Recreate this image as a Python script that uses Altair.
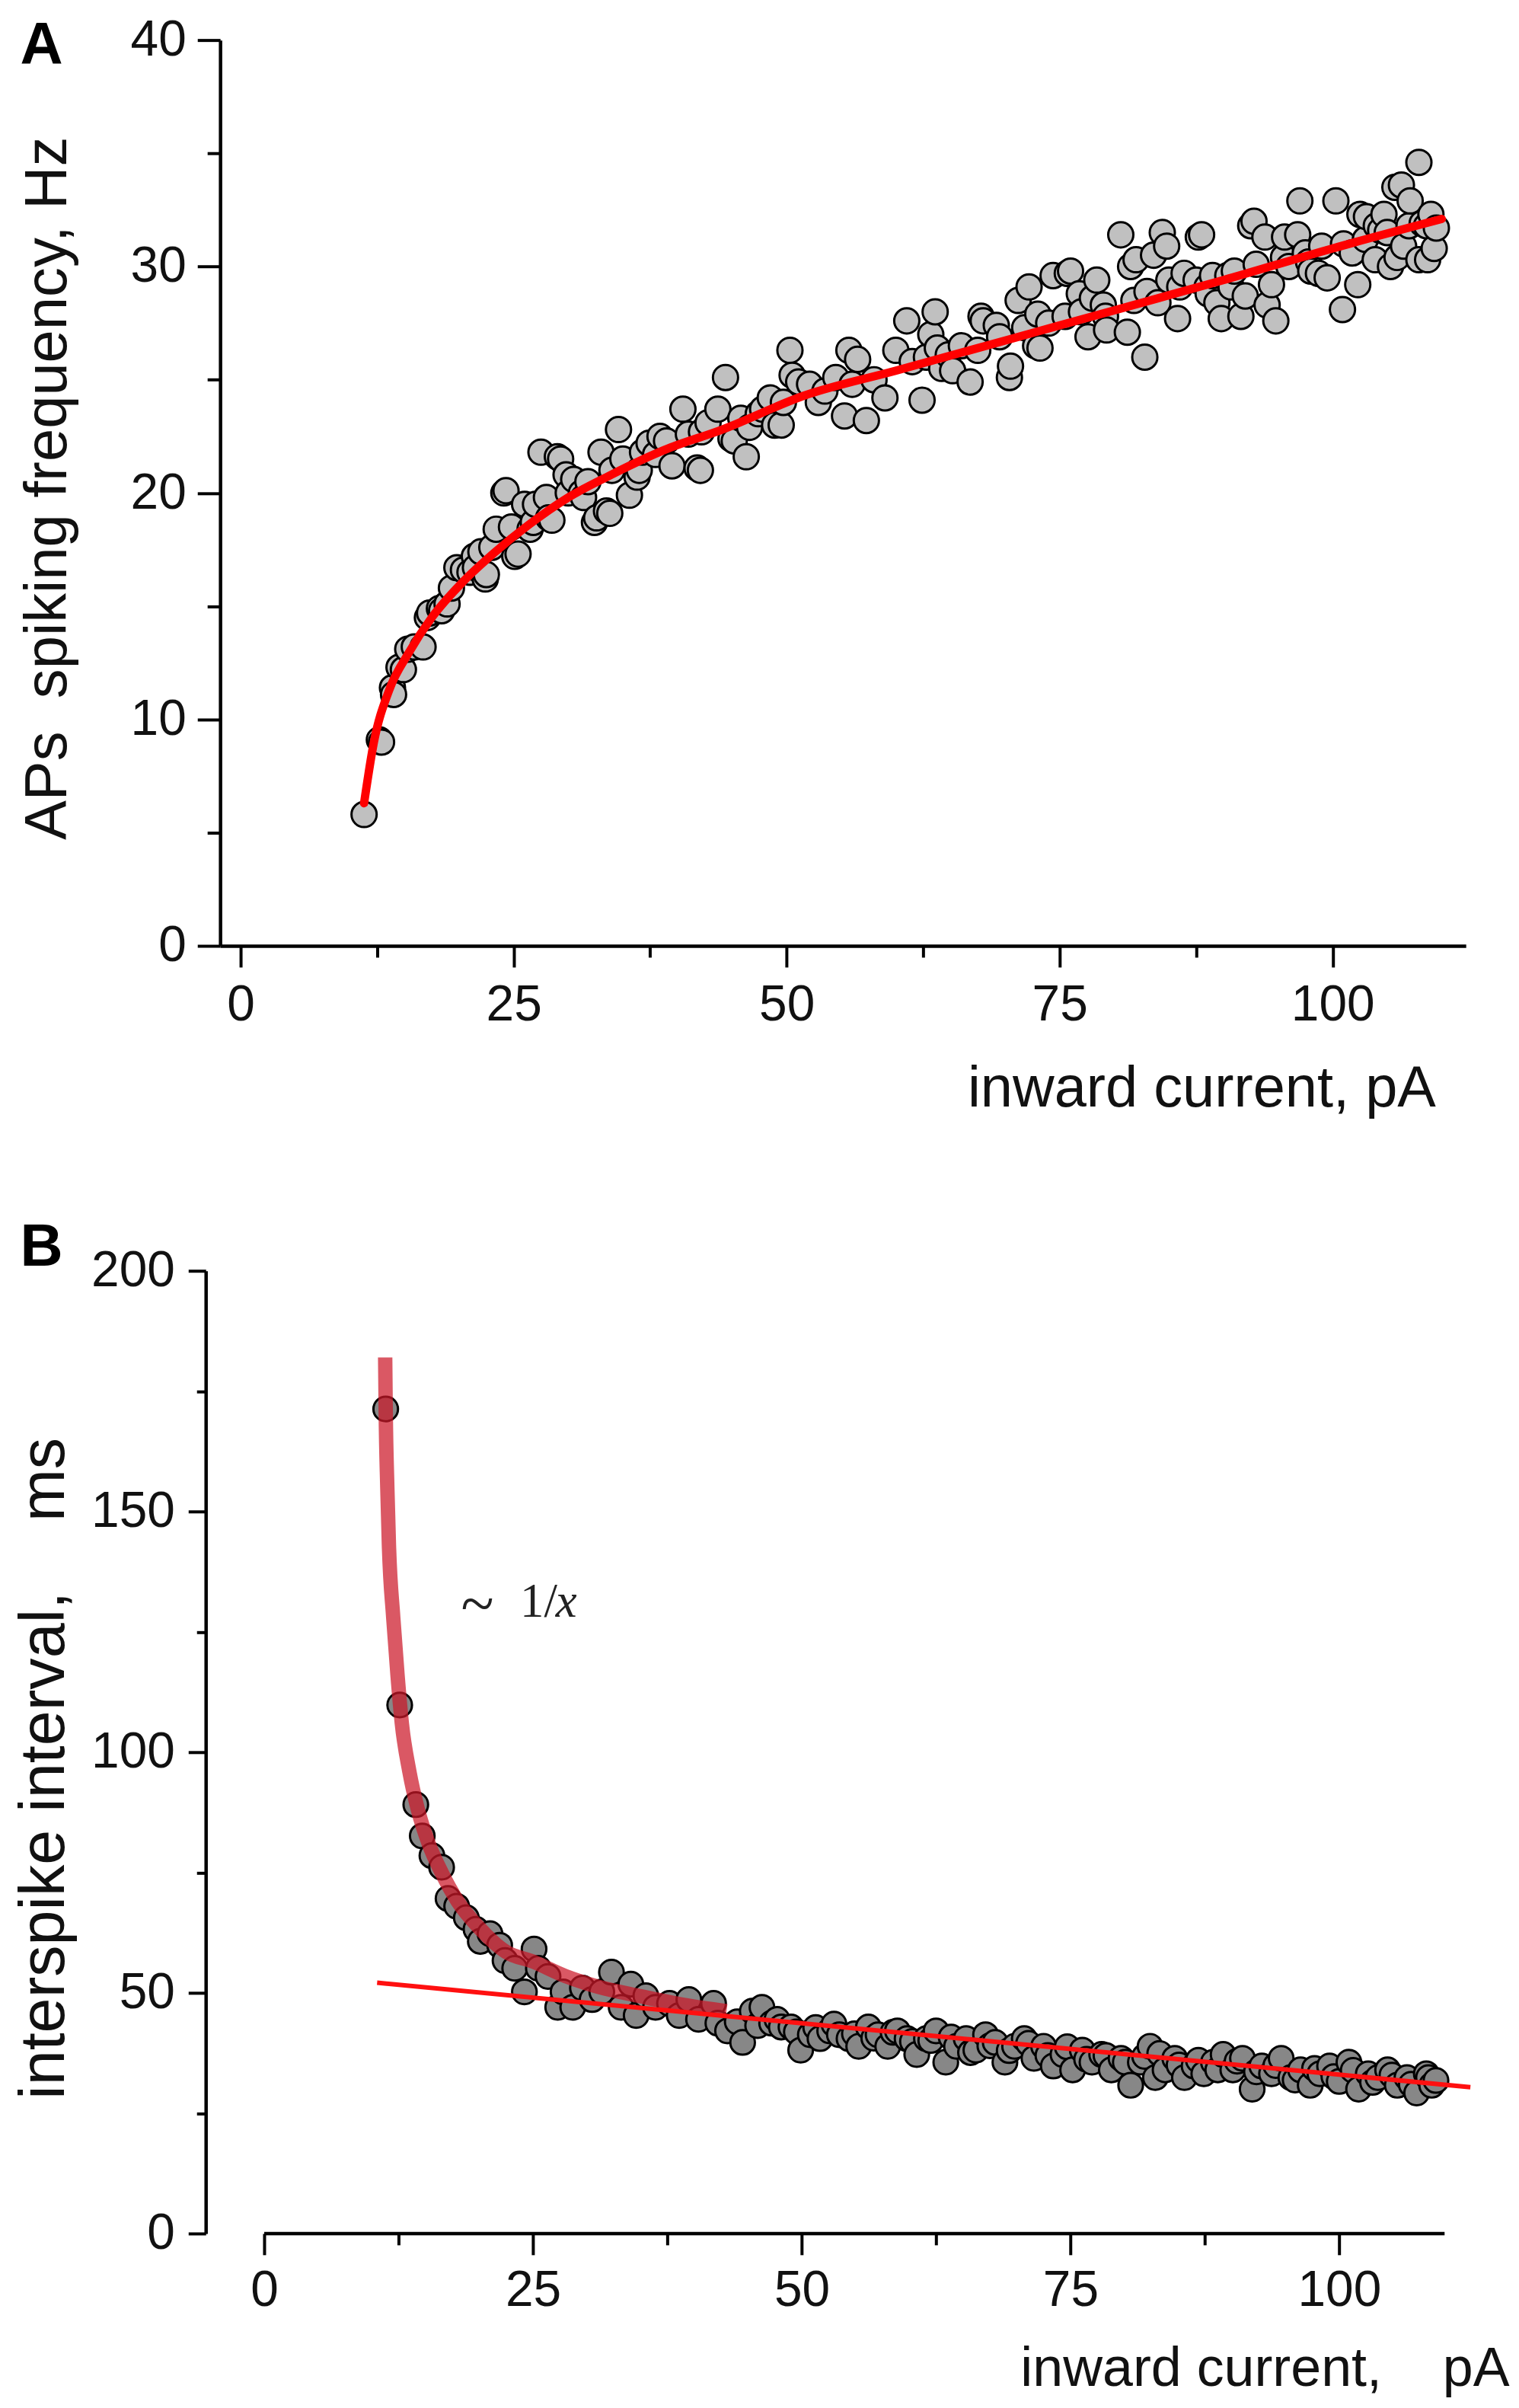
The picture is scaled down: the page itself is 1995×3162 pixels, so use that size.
import altair as alt
import pandas as pd

# ---------------- Panel A data: spiking frequency (Hz) vs inward current (pA)
a_points = [
    (11.3, 5.8), (12.7, 9.1), (12.9, 9.0), (13.9, 11.4), (14.0, 11.1), (14.5, 12.3), (14.9, 12.2),
    (15.3, 13.1), (15.9, 13.2), (16.7, 13.2), (17.1, 14.5), (17.3, 14.7), (18.2, 14.9), (18.4, 14.8),
    (18.9, 15.1), (19.3, 15.8), (19.8, 16.7), (20.4, 16.6), (21.0, 16.5), (21.4, 17.2), (21.5, 16.7),
    (22.0, 17.4), (22.4, 16.2), (22.5, 16.4), (23.0, 17.6), (23.4, 18.4), (24.1, 20.0), (24.3, 20.1),
    (24.8, 18.5), (25.1, 17.2), (25.4, 17.3), (26.0, 19.5), (26.5, 18.4), (26.8, 18.7), (27.0, 19.5),
    (27.5, 21.8), (28.0, 19.8), (28.2, 18.9), (28.5, 18.8), (29.0, 21.6), (29.3, 21.5), (29.8, 20.8),
    (30.0, 20.0), (30.5, 20.6), (31.2, 20.0), (31.4, 19.8), (31.8, 20.5), (32.4, 18.7), (32.6, 18.9),
    (33.0, 21.8), (33.5, 19.2), (33.8, 19.1), (34.0, 21.0), (34.6, 22.8), (35.0, 21.5), (35.6, 19.9),
    (36.3, 20.7), (36.5, 21.0), (36.8, 21.8), (37.4, 22.2), (38.0, 21.7), (38.4, 22.5), (39.0, 22.3),
    (39.5, 21.2), (40.5, 23.7), (41.0, 22.6), (41.8, 21.1), (42.1, 21.0), (42.2, 22.7), (42.8, 23.1),
    (43.7, 23.7), (44.4, 25.1), (44.9, 22.4), (45.2, 22.3), (45.8, 23.3), (46.3, 21.6), (46.6, 22.9),
    (47.4, 23.5), (47.8, 23.7), (48.5, 24.2), (48.9, 23.0), (49.5, 23.0), (49.7, 24.0), (50.3, 26.3),
    (50.5, 25.2), (51.1, 24.9), (52.1, 24.8), (52.9, 24.0), (53.5, 24.5), (54.5, 25.1), (55.3, 23.4),
    (55.7, 26.3), (56.0, 24.8), (56.5, 25.9), (57.3, 23.2), (58.0, 25.0), (59.0, 24.2), (60.0, 26.3),
    (61.0, 27.6), (61.5, 25.8), (62.4, 24.1), (62.8, 26.0), (63.2, 27.0), (63.6, 28.0), (63.8, 26.4),
    (64.2, 25.5), (64.8, 26.1), (65.2, 25.4), (66.0, 26.5), (66.8, 24.9), (67.5, 26.3), (67.8, 27.8),
    (68.0, 27.6), (69.2, 27.4), (69.5, 26.9), (70.4, 25.1), (70.5, 25.6), (71.2, 28.5), (71.8, 27.3),
    (72.2, 29.1), (72.8, 26.5), (73.0, 27.9), (73.2, 26.4), (74.0, 27.5), (74.4, 29.6), (75.5, 27.8),
    (75.7, 29.7), (76.0, 29.8), (76.8, 28.8), (77.0, 28.0), (77.6, 26.9), (78.0, 28.6), (78.4, 29.4),
    (79.0, 28.3), (79.2, 27.8), (79.3, 27.2), (80.6, 31.4), (81.2, 27.1), (81.5, 30.0), (81.8, 28.5),
    (82.0, 30.3), (82.8, 26.0), (83.0, 28.9), (83.6, 30.5), (84.0, 28.4), (84.4, 31.5), (84.8, 30.9),
    (85.0, 29.4), (85.8, 27.7), (86.0, 29.1), (86.4, 29.7), (87.5, 29.4), (87.7, 31.3), (88.0, 31.4),
    (88.5, 29.1), (88.6, 28.8), (89.0, 29.6), (89.4, 28.4), (89.8, 27.7), (90.4, 29.6), (90.7, 29.1),
    (91.0, 29.8), (91.6, 27.8), (92.0, 28.7), (92.5, 31.8), (92.8, 32.0), (93.0, 30.1), (93.8, 31.3),
    (94.0, 28.3), (94.4, 29.2), (94.8, 27.6), (95.5, 30.4), (95.6, 31.3), (96.0, 30.0), (96.8, 31.4),
    (97.0, 32.9), (97.5, 30.6), (97.8, 30.2), (98.0, 29.8), (98.7, 29.7), (99.0, 30.9), (99.5, 29.5),
    (100.3, 32.9), (100.9, 28.1), (101.0, 31.0), (101.8, 30.6), (102.3, 29.2), (102.5, 32.3),
    (103.0, 31.2), (103.1, 32.2), (103.9, 30.3), (104.0, 31.8), (104.4, 31.6), (104.7, 32.3),
    (105.0, 31.5), (105.3, 30.0), (105.7, 33.5), (105.9, 30.4), (106.3, 33.6), (106.5, 30.9),
    (107.0, 31.8), (107.1, 32.9), (107.9, 34.6), (107.9, 30.3), (108.2, 31.9), (108.6, 31.8),
    (108.7, 30.3), (109.0, 32.3), (109.3, 30.8), (109.5, 31.7),
]
a_fit_x = [11.3, 12.2, 13.6, 15.4, 17.5, 20.4, 23.2, 26.4, 30.0, 33.5, 38.8, 44.1, 51.6, 60.0, 75.0, 90.0, 100.0, 110.0]
a_fit_y = [6.3, 9.0, 11.3, 12.95, 14.5, 16.1, 17.35, 18.6, 19.8, 20.7, 21.9, 22.8, 24.3, 25.4, 27.4, 29.4, 30.8, 32.1]

# ---------------- Panel B data: interspike interval (ms) vs inward current (pA)
b_points = [
    (11.3, 171.3), (12.6, 109.8), (14.1, 89.1), (14.7, 82.6), (15.6, 78.5), (16.5, 76.1), (17.1, 69.6),
    (17.9, 68.0), (18.8, 65.6), (19.7, 63.2), (20.1, 60.7), (21.0, 62.3), (21.9, 59.9), (22.4, 56.7),
    (23.3, 55.1), (24.2, 50.2), (25.1, 59.1), (25.5, 55.1), (26.4, 53.4), (27.3, 47.0), (27.8, 50.2),
    (28.7, 47.0), (29.6, 51.0), (30.5, 48.6), (31.4, 50.2), (32.3, 54.3), (33.2, 47.0), (34.1, 51.8),
    (34.6, 45.3), (35.5, 49.4), (36.4, 47.0), (37.7, 47.8), (38.6, 45.3), (39.5, 48.6), (40.4, 44.5),
    (41.8, 47.8), (42.2, 43.7), (43.1, 42.1), (44.0, 44.0), (44.5, 39.7), (45.4, 46.2), (45.9, 43.2),
    (46.3, 47.0), (47.2, 43.7), (47.7, 44.5), (48.1, 42.9), (49.0, 42.9), (49.5, 41.9), (49.9, 38.1),
    (50.8, 41.3), (51.3, 42.8), (51.7, 40.5), (52.6, 42.1), (53.0, 43.5), (53.5, 41.3), (54.4, 40.5),
    (54.9, 41.5), (55.3, 38.9), (56.2, 42.9), (56.7, 40.6), (57.1, 41.3), (58.0, 38.9), (58.5, 41.8),
    (58.9, 42.1), (59.8, 40.5), (60.3, 39.9), (60.7, 37.2), (61.6, 40.5), (62.0, 40.1), (62.5, 42.1),
    (63.4, 35.6), (63.9, 40.8), (64.4, 38.9), (65.3, 40.5), (65.7, 37.6), (66.2, 38.1), (67.1, 41.3),
    (67.5, 39.0), (68.0, 39.7), (68.9, 35.6), (69.3, 38.0), (69.8, 38.9), (70.7, 40.5), (71.1, 39.5),
    (71.6, 36.4), (72.5, 38.9), (72.9, 37.0), (73.4, 34.8), (74.3, 37.2), (74.7, 38.8), (75.2, 34.0),
    (76.1, 38.1), (76.5, 36.2), (77.0, 35.6), (77.9, 37.2), (78.3, 37.0), (78.8, 34.0), (79.7, 36.4),
    (80.1, 35.6), (80.6, 30.8), (81.5, 35.6), (81.9, 36.8), (82.4, 38.9), (82.9, 32.4), (83.3, 37.4),
    (83.8, 34.0), (84.7, 36.4), (85.1, 35.0), (85.6, 32.4), (86.5, 34.8), (86.9, 36.0), (87.4, 33.2),
    (88.3, 35.6), (88.7, 34.0), (89.2, 37.2), (90.1, 34.0), (90.5, 35.8), (91.0, 36.4), (91.9, 30.0),
    (92.3, 33.6), (92.8, 34.8), (93.7, 33.2), (94.1, 34.9), (94.6, 36.4), (95.5, 32.4), (95.9, 31.9),
    (96.4, 34.0), (97.3, 30.8), (97.7, 34.3), (98.2, 33.2), (99.1, 34.8), (99.5, 32.6), (100.0, 31.6),
    (100.9, 35.6), (101.3, 33.9), (101.8, 30.0), (102.7, 33.2), (103.1, 31.4), (103.6, 32.4),
    (104.5, 34.0), (104.9, 32.9), (105.4, 30.8), (106.3, 32.4), (106.7, 31.0), (107.2, 29.2),
    (108.1, 33.2), (108.3, 32.4), (108.6, 30.8), (109.0, 31.8),
]
b_hyp_x = [11.25, 11.3, 11.45, 11.6, 12.0, 12.4, 12.8, 13.5, 14.3, 15.3, 16.5, 18.0, 20.0, 22.5, 25.0, 28.0, 31.0, 35.0, 39.0, 43.0]
b_hyp_y = [182, 171, 155, 143, 128, 116, 106, 96, 88, 81, 75, 69, 63.5, 58.5, 56.5, 53.5, 51.3, 49.3, 47.5, 46.2]
b_lin_x = [10.5, 112.2]
b_lin_y = [52.1, 30.4]
b_xaxis_span = [0, 109.8]

x_ticks = [0, 12.5, 25, 37.5, 50, 62.5, 75, 87.5, 100]
a_y_ticks = [0, 5, 10, 15, 20, 25, 30, 35, 40]
b_y_ticks = [0, 25, 50, 75, 100, 125, 150, 175, 200]

SANS = "Liberation Sans"
SERIF = "Liberation Serif"
INK = "#111111"

dfa = pd.DataFrame(a_points, columns=["x", "y"])
dfa_fit = pd.DataFrame({"x": a_fit_x, "y": a_fit_y})
dfb = pd.DataFrame(b_points, columns=["x", "y"])
dfb_hyp = pd.DataFrame({"x": b_hyp_x, "y": b_hyp_y})
dfb_lin = pd.DataFrame({"x": b_lin_x, "y": b_lin_y})

# ---------------- Panel A
ax_a = alt.X("x:Q", scale=alt.Scale(domain=[-1.88, 112.2], nice=False, zero=False),
             axis=alt.Axis(values=x_ticks, title="inward current, pA",
                           titleX=1601, titleY=211, titleAlign="right", titleBaseline="alphabetic",
                           titleFontSize=76,
                           labelExpr="datum.value % 25 === 0 ? datum.label : ''",
                           tickSize={"condition": {"test": "datum.value % 25 === 0", "value": 28}, "value": 15},
                           labelPadding=18))
ay_a = alt.Y("y:Q", scale=alt.Scale(domain=[0, 40], nice=False, zero=False),
             axis=alt.Axis(values=a_y_ticks, title="APs\u00a0\u00a0spiking frequency, Hz",
                           titleAngle=270, titleX=-203, titleY=590, titleAlign="center",
                           titleBaseline="alphabetic", titleFontSize=78,
                           labelExpr="datum.value % 10 === 0 ? datum.label : ''",
                           tickSize={"condition": {"test": "datum.value % 10 === 0", "value": 30}, "value": 17},
                           labelPadding=15))

pts_a = alt.Chart(dfa).mark_circle(color="#c0c0c0", stroke="black", strokeWidth=3, size=1100, opacity=1).encode(x=ax_a, y=ay_a)
fit_a = alt.Chart(dfa_fit).mark_line(color="#ff0000", strokeWidth=11, interpolate="monotone", strokeCap="round").encode(x="x:Q", y="y:Q")
lab_a = alt.Chart(pd.DataFrame({"t": ["A"]})).mark_text(
    text="A", font=SANS, fontSize=78, fontWeight="bold", align="left", baseline="alphabetic", color="black"
).encode(x=alt.datum(-20.2), y=alt.datum(38.96))

panel_a = alt.layer(pts_a, fit_a, lab_a).properties(width=1641, height=1193)

# ---------------- Panel B
ax_b = alt.X("x:Q", scale=alt.Scale(domain=[-4.1, 109.8], nice=False, zero=False),
             axis=alt.Axis(values=x_ticks, title="inward current,\u00a0\u00a0\u00a0\u00a0pA",
                           titleX=1698, titleY=200, titleAlign="right", titleBaseline="alphabetic",
                           titleFontSize=72, domain=False,
                           labelExpr="datum.value % 25 === 0 ? datum.label : ''",
                           tickSize={"condition": {"test": "datum.value % 25 === 0", "value": 28}, "value": 15},
                           labelPadding=15))
ay_b = alt.Y("y:Q", scale=alt.Scale(domain=[0, 200], nice=False, zero=False),
             axis=alt.Axis(values=b_y_ticks, title="interspike interval,\u00a0\u00a0\u00a0\u00a0ms",
                           titleAngle=270, titleX=-187, titleY=655, titleAlign="center",
                           titleBaseline="alphabetic", titleFontSize=83, offset=19,
                           labelExpr="datum.value % 50 === 0 ? datum.label : ''",
                           tickSize={"condition": {"test": "datum.value % 50 === 0", "value": 23}, "value": 12},
                           labelPadding=18))

pts_b = alt.Chart(dfb).mark_circle(color="#878787", stroke="black", strokeWidth=3, size=1050, opacity=1).encode(x=ax_b, y=ay_b)
hyp_b = alt.Chart(dfb_hyp).mark_line(color="#cc1828", opacity=0.72, strokeWidth=19, interpolate="monotone").encode(x="x:Q", y="y:Q")
lin_b = alt.Chart(dfb_lin).mark_line(color="#ff1010", strokeWidth=6).encode(x="x:Q", y="y:Q")
xline_b = alt.Chart(pd.DataFrame({"a": [b_xaxis_span[0]], "b": [b_xaxis_span[1]]})).mark_rule(
    color="black", strokeWidth=4.5).encode(x="a:Q", x2="b:Q", y=alt.datum(0))
ann1 = alt.Chart(pd.DataFrame({"t": ["~"]})).mark_text(
    text="~", font=SERIF, fontSize=80, align="left", baseline="alphabetic", color="#222222"
).encode(x=alt.datum(18.3), y=alt.datum(126.5))
ann2 = alt.Chart(pd.DataFrame({"t": ["1/"]})).mark_text(
    text="1/", font=SERIF, fontSize=63, align="left", baseline="alphabetic", color="#222222"
).encode(x=alt.datum(23.8), y=alt.datum(128.1))
ann3 = alt.Chart(pd.DataFrame({"t": ["x"]})).mark_text(
    text="x", font=SERIF, fontSize=63, fontStyle="italic", align="left", baseline="alphabetic", color="#222222"
).encode(x=alt.datum(27.1), y=alt.datum(128.1))
lab_b = alt.Chart(pd.DataFrame({"t": ["B"]})).mark_text(
    text="B", font=SANS, fontSize=78, fontWeight="bold", align="left", baseline="alphabetic", color="black"
).encode(x=alt.datum(-22.7), y=alt.datum(201.1))

panel_b = alt.layer(pts_b, hyp_b, lin_b, xline_b, ann1, ann2, ann3, lab_b).properties(width=1613, height=1268)

chart = alt.vconcat(panel_a, panel_b, spacing=428, bounds="flush").properties(
    padding={"left": 10, "top": 7, "right": 5, "bottom": 5},
    autosize=alt.AutoSizeParams(type="pad"),
).configure_axis(
    labelFont=SANS, titleFont=SANS, labelFontSize=66, labelColor=INK, titleColor=INK,
    titleFontWeight="normal", tickColor="black", domainColor="black", tickWidth=4, domainWidth=4.5,
    grid=False, labelOverlap=False, labelFlush=False,
).configure_view(stroke=None)

chart.save("out.html", embed_options={"renderer": "svg", "actions": False})
